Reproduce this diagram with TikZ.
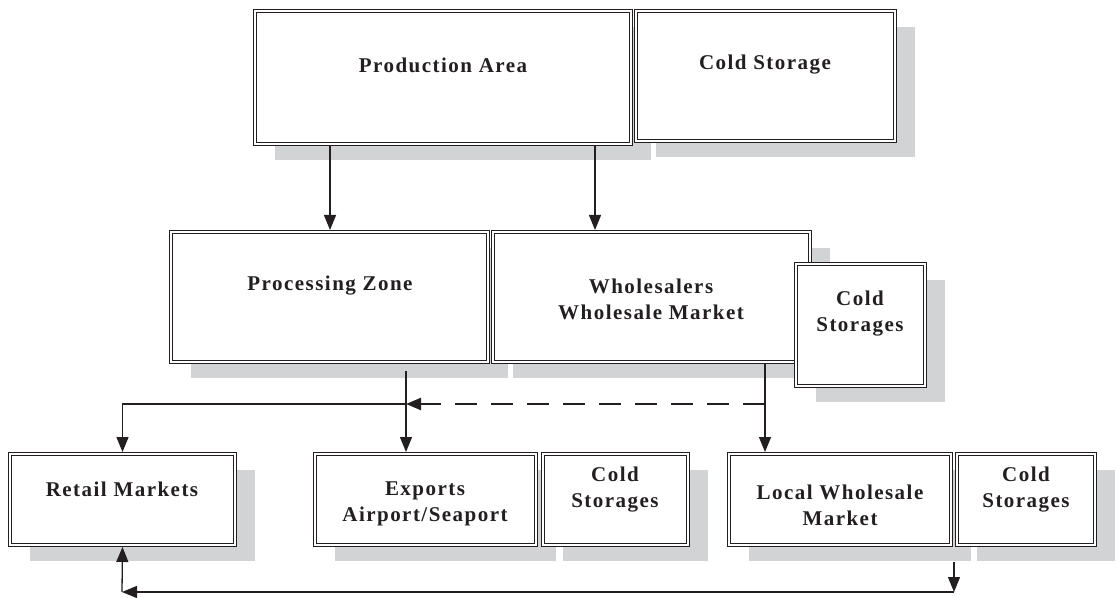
\documentclass[tikz,border=0pt]{standalone}
\usepackage{fontspec}
\setmainfont[LetterSpace=7]{Liberation Serif}
\usetikzlibrary{arrows.meta,shadows}
\definecolor{ink}{HTML}{231F20}
\definecolor{shadowgray}{HTML}{D1D3D4}

\begin{document}
\begin{tikzpicture}[x=0.5pt,y=-0.5pt]
    \tikzstyle{box}=[draw=ink, line width=0.5pt, double, double distance=1pt, fill=white,
                     inner sep=0pt, outer sep=1pt,
                     drop shadow={shadow xshift=10pt, shadow yshift=-8pt, fill=shadowgray, opacity=1}]
    \tikzstyle{lbl}=[text=ink, font=\bfseries\fontsize{10.5}{13}\selectfont, align=center]
    \tikzstyle{arr}=[draw=ink, line width=0.65pt, -{Triangle[length=7.5pt,width=6pt]}]
    \tikzstyle{dashline}=[line width=1.2pt, dash pattern=on 11pt off 7pt]

    \useasboundingbox (0,0) rectangle (1117,598);

    % top row
    \node[box, minimum width=188pt, minimum height=66.5pt] (pa) at (443,77.5) {};
    \node[box, minimum width=129.5pt, minimum height=65pt] (cs1) at (765.5,76) {};
    \node[lbl] (paL) at (443,65) {Production Area};
    \node[lbl] (cs1L) at (765,65) {Cold Storage};

    % middle row
    \node[box, minimum width=158.5pt, minimum height=65pt] (pz) at (329.5,297) {};
    \node[box, minimum width=158.5pt, minimum height=65pt] (ws) at (651.5,297) {};
    \node[box, minimum width=64.5pt, minimum height=61pt] (cs2) at (860.5,325) {};
    \node[lbl] (pzL) at (330,286) {Processing Zone};
    \node[lbl] (wsL) at (651,299) {Wholesalers\\Wholesale Market};
    \node[lbl] (cs2L) at (860,314) {Cold\\Storages};

    % bottom row
    \node[box, minimum width=112.5pt, minimum height=45.5pt] (rm) at (122.5,499.5) {};
    \node[box, minimum width=110.5pt, minimum height=45.5pt] (ex) at (425.5,499.5) {};
    \node[box, minimum width=72.5pt, minimum height=45.5pt] (cs3) at (615.5,499.5) {};
    \node[box, minimum width=111pt, minimum height=45.5pt] (lw) at (840,499.5) {};
    \node[box, minimum width=69pt, minimum height=45.5pt] (cs4) at (1026,499.5) {};
    \node[lbl] (rmL) at (122,489) {Retail Markets};
    \node[lbl] (exL) at (425,504) {Exports\\Airport/Seaport};
    \node[lbl] (cs3L) at (615,490) {Cold\\Storages};
    \node[lbl] (lwL) at (840,505) {Local Wholesale\\Market};
    \node[lbl] (cs4L) at (1026,490) {Cold\\Storages};

    % junctions
    \coordinate (a2) at (595,0);
    \coordinate (j0) at (406,371);
    \coordinate (j1) at (406,404);
    \coordinate (j2) at (765,404);
    \coordinate (b1) at (954,562);
    \coordinate (b0) at (122,592);

    % connectors
    \draw[arr] (pa.south -| pzL) -- (pz.north -| pzL);
    \draw[arr] (pa.south -| a2) -- (ws.north -| a2);
    \draw[arr] (j0) -- (ex.north -| j0);
    \draw[arr] (j1) -| (rm.north);
    \draw[arr] (ws.south -| j2) -- (lw.north -| j2);
    \draw[arr, dashline] (j2) -- (j1);
    \draw[arr] (b1) -- (b1 |- b0);
    \draw[arr] (b1 |- b0) -- (b0);
    \draw[arr] (b0) -- (rm.south);
\end{tikzpicture}
\end{document}
